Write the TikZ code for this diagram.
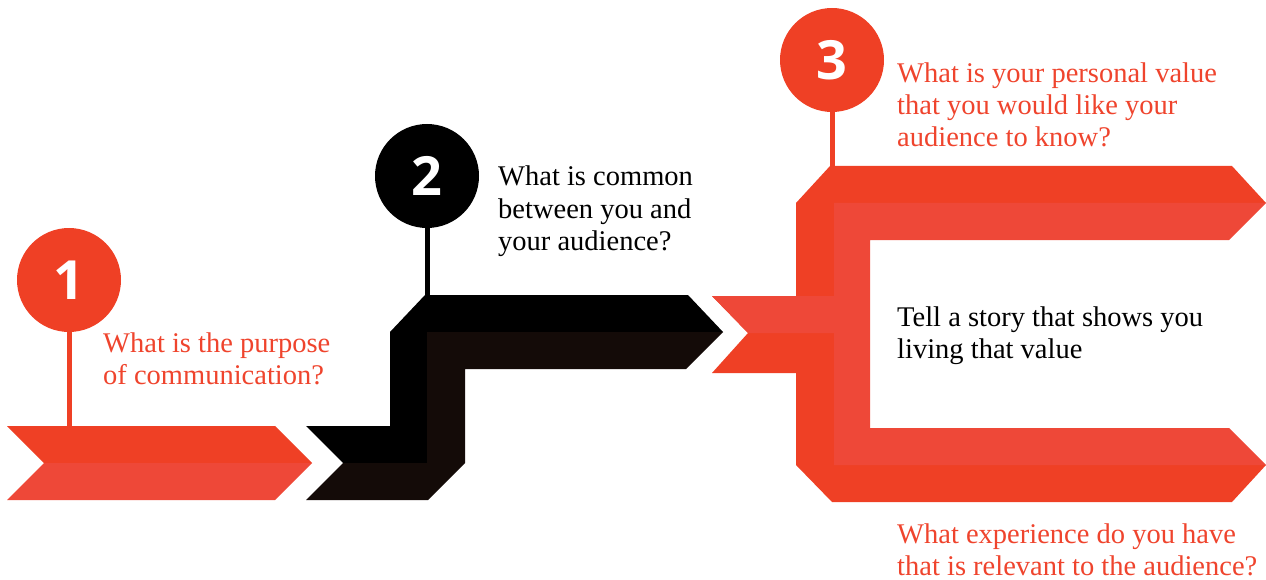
\documentclass[tikz,border=0pt]{standalone}
\usepackage{fontspec}
\setmainfont{Liberation Serif}
\newfontfamily\numfont{Open Sans}
\definecolor{redA}{RGB}{239,64,37}
\definecolor{redB}{RGB}{238,72,56}
\definecolor{redText}{RGB}{239,68,45}
\definecolor{inkA}{RGB}{0,0,0}
\definecolor{inkB}{RGB}{20,11,8}
\begin{document}
\begin{tikzpicture}[x=1pt,y=-1pt,
  numdot/.style={circle, minimum size=104pt, inner sep=0pt, text=white,
    font=\numfont\bfseries\fontsize{54}{54}\selectfont},
  stem/.style={line width=5pt},
  % multi-line nodes sit on the baseline of their last line
  question/.style={anchor=base west, align=left, inner sep=0pt,
    font=\fontsize{28.5}{32}\selectfont},
]
\path[use as bounding box] (0,0) rectangle (1266,580);

% ---- stage 1: red chevron ----
\fill[redA] (7,426) -- (275,426) -- (312,463) -- (44,463) -- cycle;
\fill[redB] (44,463) -- (312,463) -- (275,500) -- (7,500) -- cycle;

% ---- stage 2: black step ----
\fill[inkA] (306,426) -- (390,426) -- (390,332) -- (425,295) -- (688,295)
  -- (723,332) -- (427,332) -- (427,463) -- (343,463) -- cycle;
\fill[inkB] (343,463) -- (427,463) -- (427,332) -- (723,332) -- (686,369)
  -- (465,369) -- (465,463) -- (428,500) -- (306,500) -- cycle;

% ---- stage 3: red bracket with two outgoing arrows ----
\fill[redA] (830,166) -- (1232,166) -- (1266,203) -- (834,203) -- (834,465)
  -- (1266,465) -- (1232,502) -- (832,502) -- (796,465) -- (796,373)
  -- (712,373) -- (748,333) -- (712,296) -- (796,296) -- (796,203) -- cycle;
\fill[redB] (834,203) -- (1266,203) -- (1229,240) -- (870,240) -- (870,428)
  -- (1229,428) -- (1266,465) -- (834,465) -- (834,333) -- (748,333)
  -- (712,296) -- (834,296) -- cycle;

% ---- markers with stems ----
\coordinate (s1) at (69,426);
\coordinate (s2) at (427,295);
\coordinate (s3) at (832,166);
\node[numdot, fill=redA] (c1) at (69,280) {1};
\node[numdot, fill=inkA] (c2) at (427,176) {2};
\node[numdot, fill=redA] (c3) at (832,60) {3};
\draw[stem, redA] (c1.south) -- (s1);
\draw[stem, inkA] (c2.south) -- (s2);
\draw[stem, redA] (c3.south) -- (s3);

% ---- questions ----
\node[question, text=redText] (q1) at (103,384) {What is the purpose\\of communication?};
\node[question, text=black] (q2) at (498,250) {What is common\\between you and\\your audience?};
\node[question, text=redText] (q3) at (897,147) {What is your personal value\\that you would like your\\audience to know?};
\node[question, text=black] (story) at (897,358) {Tell a story that shows you\\living that value};
\node[question, text=redText] (exp) at (897,575) {What experience do you have\\that is relevant to the audience?};
\end{tikzpicture}
\end{document}
